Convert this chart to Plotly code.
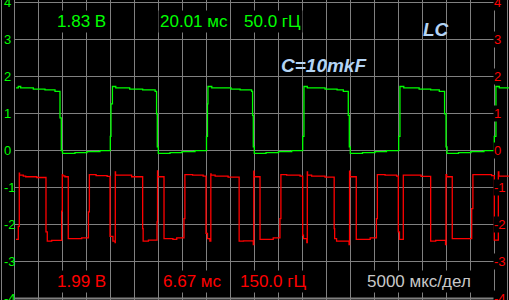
import plotly.graph_objects as go

# ---- data (time in ms, 5 ms / div; values in divisions) ----
green_t = [0.31, 0.79, 1.29, 3.92, 6.35, 8.44, 9.48, 9.75, 10.0, 12.6, 15.1, 17.8,
           19.96, 20.1, 20.4, 21.1, 24.0, 26.7, 29.3, 29.6, 29.75, 29.96, 32.4, 34.9, 37.6,
           40.0, 40.2, 40.3, 41.1, 45.1, 47.0, 49.4, 49.6, 49.75, 49.96, 52.4, 55.0, 57.75,
           60.04, 60.3, 61.0, 64.7, 67.2, 68.5, 69.54, 69.75, 69.96, 72.5, 75.1, 77.5,
           80.04, 80.3, 81.1, 84.3, 86.7, 88.5, 89.6, 89.9, 90.1, 92.5, 95.1, 97.8,
           99.96, 100.3, 101.0, 103.0]
green_v = [1.69, 1.73, 1.69, 1.66, 1.64, 1.60, 0.88, 0.0, -0.08, -0.06, -0.03, -0.005,
           0.38, 1.26, 1.73, 1.69, 1.66, 1.64, 1.60, 0.99, 0.10, -0.08, -0.06, -0.03, -0.005,
           0.38, 1.26, 1.73, 1.69, 1.66, 1.64, 1.60, 0.95, 0.10, -0.08, -0.06, -0.03, -0.005,
           0.38, 1.73, 1.69, 1.66, 1.64, 1.60, 0.95, 0.10, -0.08, -0.06, -0.03, -0.005,
           0.38, 1.73, 1.69, 1.66, 1.64, 1.60, 0.99, 0.10, -0.08, -0.06, -0.03, -0.005,
           0.38, 1.73, 1.69, 1.69]

red_t = [0.31, 0.79, 1.0, 1.05, 1.83, 2.33, 4.63, 6.56, 6.83, 7.75, 9.83, 9.96, 10.05, 10.5,
         11.2, 14.0, 15.4, 15.6, 17.0, 19.3, 19.9, 20.5, 20.95, 21.0, 21.05, 24.4,
         26.7, 26.8, 27.9, 29.7, 29.8, 29.85, 31.15, 33.0, 33.8, 35.3, 35.5, 37.1, 39.3,
         39.9, 40.2, 40.7, 40.9, 40.95, 41.8, 44.5, 46.8, 47.7, 49.75, 49.85, 49.9,
         51.15, 53.9, 55.3, 55.5, 56.7, 59.5, 60.04, 60.2, 60.9, 61.0, 61.05, 61.9, 64.7,
         66.6, 66.7, 67.1, 69.7, 69.8, 69.9, 71.2, 74.1, 75.4, 75.6, 77.2, 79.6,
         79.96, 80.2, 81.0, 84.7, 86.7, 87.75, 89.8, 89.9, 90.04, 91.2, 95.25, 95.5, 99.4,
         99.96, 100.8, 100.9, 103.0]
red_v = [-2.40, -2.05, -0.61, -0.667, -0.695, -0.71, -0.73, -2.20, -2.45, -2.43, -1.64, -0.65, -0.686, -0.71,
         -2.38, -2.36, -1.66, -0.65, -0.68, -0.70, -2.32, -2.45, -2.49, -0.58, -0.667, -0.71,
         -2.11, -2.45, -2.42, -1.93, -0.55, -0.71, -2.38, -2.40, -2.36, -1.84, -0.65, -0.667, -0.695,
         -2.24, -2.38, -2.45, -0.63, -0.667, -0.695, -0.72, -2.45, -2.44, -2.54, -0.56, -0.71,
         -2.40, -2.36, -1.84, -0.65, -0.667, -0.695, -2.29, -2.38, -2.49, -0.58, -0.667, -0.695, -0.72,
         -2.11, -2.38, -2.45, -2.54, -0.56, -0.71, -2.40, -2.36, -1.84, -0.65, -0.667, -0.695,
         -2.20, -2.40, -0.667, -0.70, -2.45, -2.43, -2.54, -0.65, -0.71, -2.38, -1.57, -0.65, -0.68,
         -2.42, -0.58, -0.695, -0.695]

y_ticks = [4, 3, 2, 1, 0, -1, -2, -3, -4]
y_tick_labels = ["4", "3", "2", "1", "0", "-1", "-2", "-3", "-4"]
x_grid = [0, 5, 10, 15, 20, 25, 30, 35, 40, 45, 50, 55, 60, 65, 70, 75, 80, 85, 90, 95, 100]

ch1_info = ["1.83 В", "20.01 мс", "50.0 гЦ"]
ch2_info = ["1.99 В", "6.67 мс", "150.0 гЦ"]
timebase = "5000 мкс/дел"
title_lc = "LC"
title_c = "C=10mkF"

GREEN = "#00ff00"
RED = "#ff0000"
GRID = "#808080"
BLUE = "#b4d4f4"
FONT = "Liberation Sans, Arial, sans-serif"
W, H = 509, 300

fig = go.Figure()

# grid (horizontal) limited to graticule width
shapes = []
for yv in y_ticks:
    shapes.append(dict(type="line", xref="x", yref="y", x0=x_grid[0], x1=x_grid[-1], y0=yv, y1=yv,
                       line=dict(color=GRID, width=2 if yv == y_ticks[-1] else 1), layer="below"))
# frame lines left / right
shapes.append(dict(type="line", xref="paper", yref="paper", x0=1.5 / W, x1=1.5 / W, y0=0, y1=1,
                   line=dict(color=GRID, width=1), layer="below"))
shapes.append(dict(type="line", xref="paper", yref="paper", x0=507.5 / W, x1=507.5 / W, y0=0, y1=1,
                   line=dict(color=GRID, width=1), layer="below"))

fig.add_trace(go.Scatter(x=green_t, y=green_v, mode="lines", line=dict(color=GREEN, width=1.3, shape="hv"),
                         hoverinfo="skip"))
fig.add_trace(go.Scatter(x=red_t, y=red_v, mode="lines", line=dict(color=RED, width=1.3, shape="hv"),
                         hoverinfo="skip"))

ann = []
for yv, lab in zip(y_ticks, y_tick_labels):
    ann.append(dict(xref="paper", yref="y", x=2.0 / W, y=yv, text=lab, showarrow=False,
                    xanchor="left", yanchor="middle", font=dict(family=FONT, size=13, color=GREEN)))
    ann.append(dict(xref="paper", yref="y", x=493.0 / W, y=yv, text=lab, showarrow=False,
                    xanchor="left", yanchor="middle", bgcolor="black", borderpad=0,
                    font=dict(family=FONT, size=13, color=RED)))

def txt(cx, cy, s, color, size=17, **kw):
    d = dict(xref="paper", yref="paper", x=cx / W, y=1 - cy / H, text=s, showarrow=False,
             xanchor="center", yanchor="middle", font=dict(family=FONT, size=size, color=color))
    d.update(kw)
    return d

top_x = [81, 194, 272.5]
bot_x = [81, 191.5, 273]
for cx, s in zip(top_x, ch1_info):
    ann.append(txt(cx, 21, s, GREEN, bgcolor="black", borderpad=1))
for cx, s in zip(bot_x, ch2_info):
    ann.append(txt(cx, 281, s, RED, bgcolor="black", borderpad=1))
ann.append(txt(419, 281, timebase, "#c8c8c8", bgcolor="black", borderpad=1))
ann.append(dict(xref="paper", yref="paper", x=436 / W, y=1 - 30 / H, text=title_lc, showarrow=False,
                xanchor="center", yanchor="middle",
                font=dict(family=FONT, size=19, color=BLUE, weight="bold", style="italic")))
ann.append(dict(xref="paper", yref="paper", x=324 / W, y=1 - 65 / H, text=title_c, showarrow=False,
                xanchor="center", yanchor="middle",
                font=dict(family=FONT, size=19, color=BLUE, weight="bold", style="italic")))

fig.update_layout(
    width=W, height=H, margin=dict(l=0, r=0, t=0, b=0),
    paper_bgcolor="black", plot_bgcolor="black", showlegend=False,
    xaxis=dict(range=[-14.5 / 4.8, (W - 14.5) / 4.8], tickmode="array", tickvals=x_grid,
               showgrid=True, gridcolor=GRID, gridwidth=1, zeroline=False,
               showticklabels=False, ticks="", showline=False, fixedrange=True),
    yaxis=dict(range=[-149.5 / 37, 150.5 / 37], showgrid=False, zeroline=False,
               showticklabels=False, ticks="", showline=False, fixedrange=True),
    shapes=shapes, annotations=ann,
)

fig.write_html("out.html")
